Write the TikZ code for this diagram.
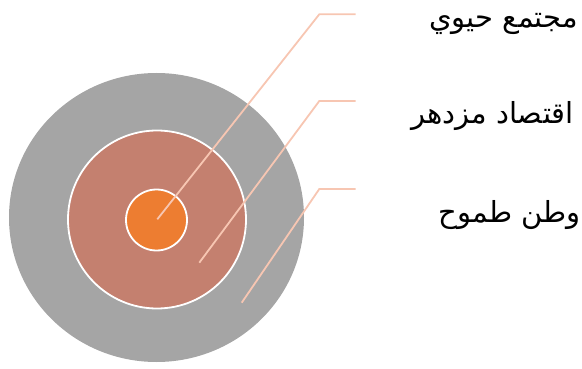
\documentclass[tikz,border=0pt]{standalone}
\usepackage{fontspec}
\newfontfamily\arabicfont[Script=Arabic]{DejaVu Sans}
\TeXXeTstate=1
\definecolor{outergray}{HTML}{A5A5A5}
\definecolor{midred}{HTML}{C4806F}
\definecolor{coreorange}{HTML}{ED7D31}
\definecolor{leader}{HTML}{F7C6B2}
\begin{document}
\begin{tikzpicture}[x=1pt,y=-1pt,
  leaderline/.style={draw=leader,line width=1.8pt},
  lbl/.style={anchor=east,inner sep=0pt,font=\arabicfont\fontsize{29}{32}\selectfont}]
\useasboundingbox (0,0) rectangle (582,369);
\fill[outergray] (156.5,217.5) ellipse [x radius=147.5, y radius=144.5];
\fill[midred,draw=white,line width=1.8pt] (157,219.5) circle [radius=89];
\fill[coreorange,draw=white,line width=1.8pt] (156.5,220) circle [radius=30.5];
\coordinate (e1) at (157.3,219.3);
\coordinate (e2) at (199.3,262.7);
\coordinate (e3) at (241.7,302.7);
\coordinate (b1) at (319.3,14.3);
\coordinate (b2) at (319.3,101);
\coordinate (b3) at (319.3,189);
\coordinate (h1) at (355.7,14.3);
\coordinate (h2) at (355.7,101);
\coordinate (h3) at (355.7,189);
\draw[leaderline] (e1) -- (b1) -- (h1);
\draw[leaderline] (e2) -- (b2) -- (h2);
\draw[leaderline] (e3) -- (b3) -- (h3);
\node[lbl] (t1) at (578,24) {\beginR مجتمع حيوي\endR};
\node[lbl] (t2) at (574,116) {\beginR اقتصاد مزدهر\endR};
\node[lbl] (t3) at (581,215) {\beginR وطن طموح\endR};
\end{tikzpicture}
\end{document}
